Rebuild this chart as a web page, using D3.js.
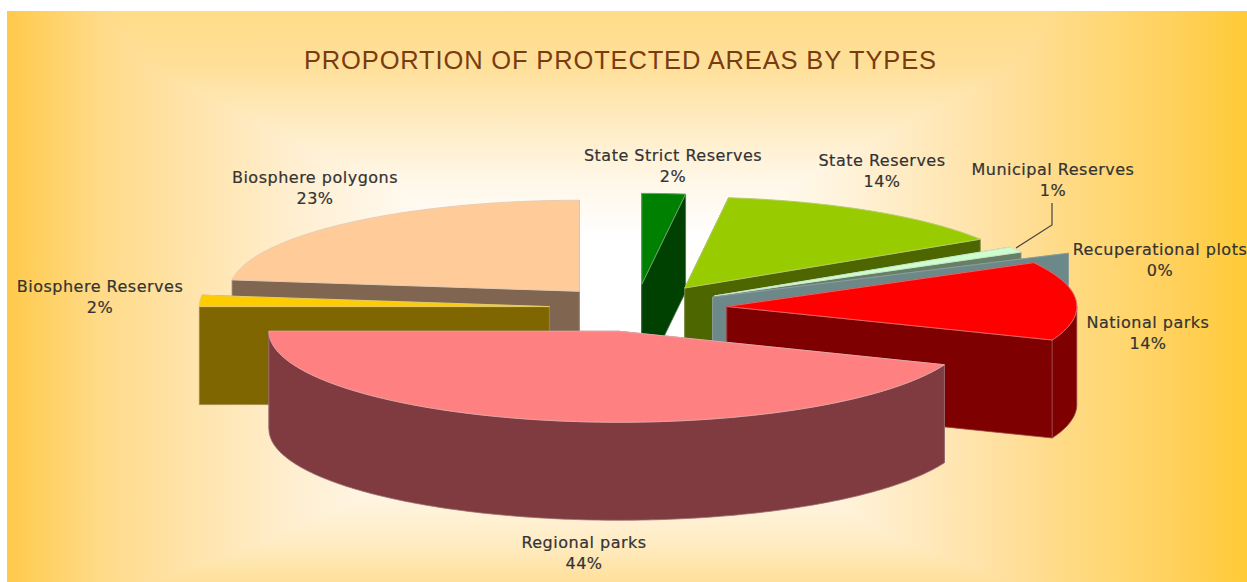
<!DOCTYPE html>
<html>
<head>
<meta charset="utf-8">
<script src="https://cdn.jsdelivr.net/npm/d3@7"></script>
<style>
  html, body { margin: 0; padding: 0; background: #fff; overflow: hidden; }
  svg { display: block; }
  .label { font-family: "DejaVu Sans", sans-serif; font-size: 16px; letter-spacing: 0.5px; fill: #333; stroke: #333; stroke-width: 0.2px; text-anchor: middle; }
  .title { font-family: "Liberation Sans", sans-serif; font-size: 25.5px; fill: #7a3b12; text-anchor: middle; }
</style>
</head>
<body>
<div id="chart"></div>
<script>
// chart data, in pie order, clockwise from 12 o'clock
const categories = ["State Strict Reserves", "State Reserves", "Municipal Reserves", "Recuperational plots",
  "National parks", "Regional parks", "Biosphere Reserves", "Biosphere polygons"];
const shares = [2, 14, 1, 0, 14, 44, 2, 23];
const titleText = "PROPORTION OF PROTECTED AREAS BY TYPES";

// excel style palette
const topColors = ["#008000", "#99cc00", "#ccffcc", "#99b3b3", "#ff0000", "#ff8080", "#ffcc00", "#ffcc99"];
const wallColors = ["#004000", "#4d6600", "#667f66", "#6c8888", "#7f0000", "#7f3b40", "#806600", "#806650"];

// label anchors, one per slice
const labelPos = [[673, 161], [882, 166], [1053, 175], [1160, 255], [1148, 328], [584, 548], [100, 292], [315, 183]];

const svgWidth = 1247;
const svgHeight = 582;

const pieCenter = { x: 636, y: 308 };
const radius = { x: 350, y: 91 };
const depth = 98;
const explode = [0.26, 0.26, 0.26, 0.25, 0.26, 0.26, 0.248, 0.245];
// the 0% slice sticks out past the rim in the original
const stretch = [1, 1, 1, 1.16, 1, 1, 1, 1];

const svg = d3.select("#chart").append("svg")
  .attr("width", svgWidth)
  .attr("height", svgHeight);

// background glow: one gradient across, one down, darken keeps the stronger of the two
const defs = svg.append("defs");
function addGradient(id, x2, y2, stops) {
  const g = defs.append("linearGradient")
    .attr("id", id)
    .attr("x1", 0).attr("y1", 0).attr("x2", x2).attr("y2", y2);
  stops.forEach(s => g.append("stop").attr("offset", s[0]).attr("stop-color", s[1]));
}
addGradient("glowX", 1, 0, [[0, "#ffc94a"], [0.027, "#ffd060"], [0.075, "#ffda88"], [0.155, "#ffe4ad"], [0.236, "#ffefd2"],
  [0.333, "#fffaf2"], [0.4, "#ffffff"], [0.575, "#ffffff"], [0.68, "#fff2d8"], [0.8, "#ffe0a0"], [0.88, "#ffd878"],
  [0.945, "#ffd05a"], [1, "#ffcb36"]]);
addGradient("glowY", 0, 1, [[0, "#ffdc88"], [0.1, "#ffe09a"], [0.2, "#ffecc4"], [0.3, "#fff7e8"], [0.4, "#ffffff"],
  [0.7, "#ffffff"], [0.85, "#fff5e2"], [0.93, "#ffecc4"], [1, "#ffe09a"]]);
const bg = svg.append("g").style("isolation", "isolate");
["glowX", "glowY"].forEach((id, i) => {
  bg.append("rect")
    .attr("x", 7).attr("y", 11)
    .attr("width", svgWidth - 7).attr("height", svgHeight - 11)
    .attr("fill", `url(#${id})`)
    .style("mix-blend-mode", i ? "darken" : "normal");
});

svg.append("text")
  .attr("class", "title")
  .attr("x", 620).attr("y", 69)
  .attr("textLength", 632)
  .text(titleText);

// scales from unit circle to the flattened pie
const xScale = d3.scaleLinear().domain([-1, 1]).range([pieCenter.x - radius.x, pieCenter.x + radius.x]);
const yScale = d3.scaleLinear().domain([-1, 1]).range([pieCenter.y - radius.y, pieCenter.y + radius.y]);
const zScale = d3.scaleLinear().domain([0, 1]).range([0, depth]);

const pie = d3.pie().sort(null).value(d => d);
const slices = pie(shares);

const line = d3.line().x(d => d[0]).y(d => d[1]);
const closed = pts => line(pts) + "Z";

function project(apex, a, k, z) {
  return [xScale(apex[0] + k * Math.sin(a)), yScale(apex[1] - Math.cos(a)) + zScale(z)];
}

function arcPoints(from, to, apex, k, z) {
  const n = Math.max(2, Math.ceil((to - from) * 60));
  return d3.range(n + 1).map(i => project(apex, from + (to - from) * i / n, k, z));
}

// back slices first so the front ones cover them
const drawOrder = [7, 6, 0, 1, 2, 3, 4, 5];
const pieGroup = svg.append("g");

drawOrder.forEach(i => {
  const s = slices[i];
  const mid = (s.startAngle + s.endAngle) / 2;
  const apex = [explode[i] * Math.sin(mid), -explode[i] * Math.cos(mid)];
  const k = stretch[i];
  const a0 = [xScale(apex[0]), yScale(apex[1])];
  const a1 = [a0[0], a0[1] + zScale(1)];
  const top = arcPoints(s.startAngle, s.endAngle, apex, k, 0);
  const bottom = arcPoints(s.startAngle, s.endAngle, apex, k, 1);

  const g = pieGroup.append("g").attr("class", "slice");
  const face = pts => g.append("path")
    .attr("d", closed(pts))
    .attr("fill", wallColors[i])
    .attr("stroke", d3.interpolateRgb(wallColors[i], "#cccccc")(0.35))
    .attr("stroke-width", 0.8);

  // cut faces first, the one further back before the nearer one, then the front of the rim
  const last = top.length - 1;
  const cuts = [[a0, top[0], bottom[0], a1], [a0, top[last], bottom[last], a1]];
  cuts.sort((p, q) => p[1][1] - q[1][1]).forEach(face);

  const rimFrom = Math.max(s.startAngle, Math.PI / 2);
  const rimTo = Math.min(s.endAngle, Math.PI * 3 / 2);
  if (rimTo > rimFrom) {
    const upper = arcPoints(rimFrom, rimTo, apex, k, 0);
    const lower = arcPoints(rimFrom, rimTo, apex, k, 1);
    face(upper.concat(lower.reverse()));
  }

  if (shares[i] > 0) {
    g.append("path")
      .attr("d", closed([a0].concat(top)))
      .attr("fill", topColors[i])
      .attr("stroke", d3.interpolateRgb(topColors[i], "#cccccc")(0.5))
      .attr("stroke-width", 1);
  }
});

// leader for the small slice
svg.append("path")
  .attr("d", line([[1052, 203], [1052, 225], [1016, 248]]))
  .attr("fill", "none")
  .attr("stroke", "#444")
  .attr("stroke-width", 1.2);

// labels
const labels = svg.append("g").selectAll("text")
  .data(categories)
  .enter()
  .append("text")
  .attr("class", "label")
  .attr("x", (d, i) => labelPos[i][0])
  .attr("y", (d, i) => labelPos[i][1]);
labels.append("tspan").text(d => d);
labels.append("tspan")
  .attr("x", (d, i) => labelPos[i][0])
  .attr("dy", 21)
  .text((d, i) => shares[i] + "%");
</script>
</body>
</html>
